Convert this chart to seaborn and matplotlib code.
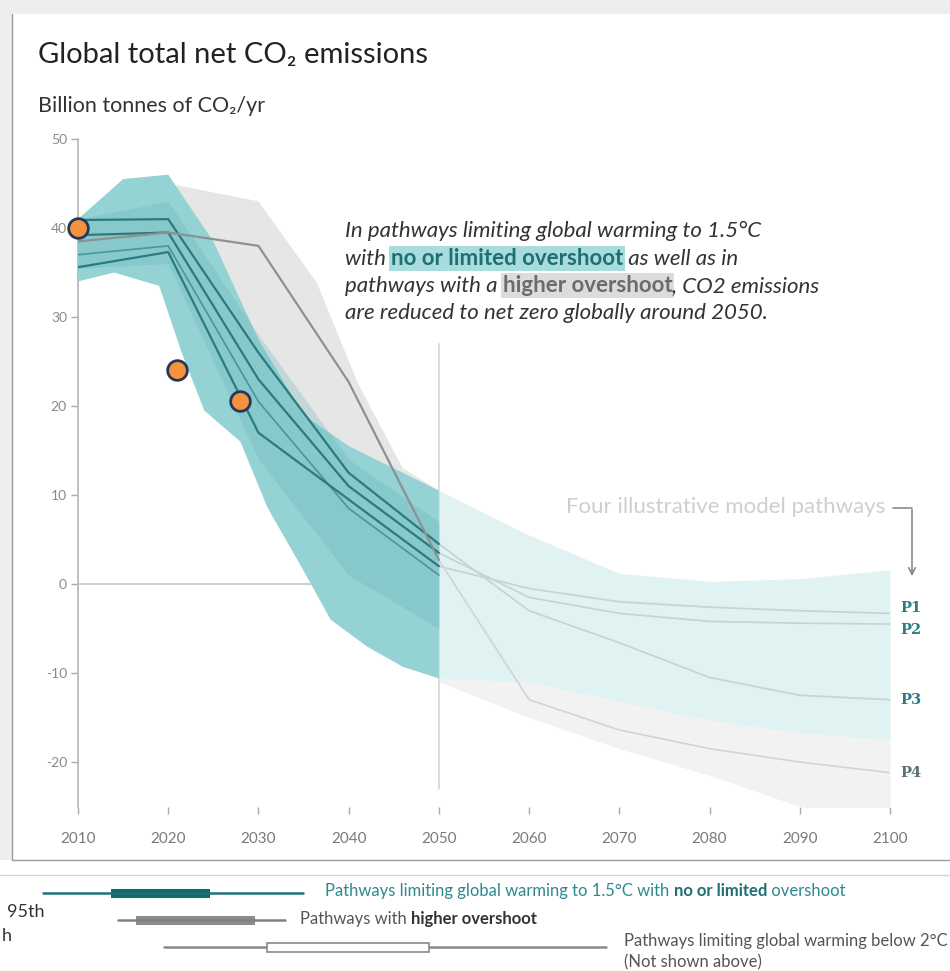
import numpy as np
import pandas as pd
import matplotlib.pyplot as plt
from matplotlib.patches import Rectangle
import seaborn as sns

# Illustrative pathways (billion tonnes CO2/yr)
years = [2010, 2020, 2030, 2040, 2050, 2060, 2070, 2080, 2090, 2100]
p1 = [35.6, 37.3, 17.0, 9.5, 2.0, -0.5, -2.0, -2.6, -3.0, -3.3]
p2 = [39.2, 39.5, 23.0, 11.0, 3.5, -1.5, -3.3, -4.2, -4.4, -4.5]
p3 = [40.9, 41.0, 26.0, 12.5, 4.5, -3.0, -6.6, -10.5, -12.5, -13.0]
p4 = [38.5, 39.5, 38.0, 22.7, 2.7, -13.0, -16.4, -18.5, -20.0, -21.2]
mid_15 = [37.0, 38.0, 20.5, 8.5, 1.0]

# 1.5C no / limited overshoot range, up to 2050
teal_up_x = [2010, 2015, 2020, 2025, 2030, 2035, 2040, 2045, 2050]
teal_up_y = [41.0, 45.5, 46.0, 38.5, 27.5, 19.0, 15.5, 13.0, 10.5]
teal_lo_x = [2010, 2014, 2019, 2021.5, 2024, 2028, 2031, 2035, 2038, 2042, 2046, 2050]
teal_lo_y = [34.0, 35.0, 33.5, 26.0, 19.5, 16.0, 8.6, 1.5, -4.0, -7.0, -9.3, -10.6]
inner_x = [2010, 2020, 2030, 2040, 2050]
inner_up = [41.0, 43.0, 28.0, 14.0, 7.0]
inner_lo = [35.5, 36.0, 14.0, 1.0, -5.0]

# higher overshoot range, up to 2050
gray_up_x = [2010, 2015, 2021, 2030, 2036.5, 2041, 2046, 2050]
gray_up_y = [41.0, 44.0, 44.8, 43.0, 33.8, 22.6, 13.0, 10.5]
gray_lo_x = [2010, 2020, 2030, 2040, 2050]
gray_lo_y = [36.0, 36.0, 20.0, 5.0, -8.0]

# ranges after 2050
late_x = [2050, 2060, 2070, 2080, 2090, 2100]
late_teal_up = [10.5, 5.5, 1.2, 0.3, 0.6, 1.6]
late_teal_lo = [-10.6, -11.0, -13.2, -15.3, -16.7, -17.5]
late_gray_up = [3.0, 0.0, -2.0, -3.0, -3.0, -3.0]
late_gray_lo = [-11.0, -15.0, -18.5, -21.5, -25.0, -27.0]

# observed points
obs_x = [2010, 2021, 2028]
obs_y = [40.0, 24.0, 20.6]

sns.set_theme(style="white")
plt.rcParams["font.family"] = ["Lato", "DejaVu Sans"]
plt.rcParams["axes.unicode_minus"] = False

fig = plt.figure(figsize=(9.5, 9.71), dpi=100)

# background layer in pixel coordinates
bg = fig.add_axes([0, 0, 1, 1], zorder=0)
bg.set_xlim(0, 950)
bg.set_ylim(971, 0)
bg.axis("off")
bg.add_patch(Rectangle((0, 0), 950, 14, fc="#eeeeee", ec="none"))
bg.add_patch(Rectangle((0, 0), 12, 860, fc="#eeeeee", ec="none"))
bg.plot([12, 12], [14, 860], color="#9a9a9a", lw=1)
bg.plot([12, 950], [860, 860], color="#9a9a9a", lw=1)
bg.plot([0, 950], [875, 875], color="#d5d5d5", lw=1)

bg.text(38, 55, "Global total net CO₂ emissions", fontsize=21, va="center", color="#222222")
bg.text(38, 106, "Billion tonnes of CO₂/yr", fontsize=15.5, va="center", color="#333333")

ax = fig.add_axes([0.0821, 0.1694, 0.8547, 0.6874], zorder=1)
ax.patch.set_alpha(0)

# late ranges
ax.fill_between(late_x, late_gray_lo, late_gray_up, color="#f2f2f2", lw=0, zorder=1)
ax.fill_between(late_x, late_teal_lo, late_teal_up, color="#e1f2f3", lw=0, zorder=2)

# reference lines
ax.plot([2010, 2050], [0, 0], color="#cfcfcf", lw=1.4, zorder=2)
ax.plot([2050, 2050], [27, -23], color="#dddddd", lw=1.4, zorder=2)

# higher overshoot range
ax.fill(gray_up_x + gray_lo_x[::-1], gray_up_y + gray_lo_y[::-1],
        color="#e6e6e6", lw=0, zorder=3)
# 1.5C range
ax.fill(teal_up_x + teal_lo_x[::-1], teal_up_y + teal_lo_y[::-1],
        color="#95d2d4", lw=0, zorder=4)
ax.fill_between(inner_x, inner_lo, inner_up, color="#5eaeb3", alpha=0.25, lw=0, zorder=5)

# pathway lines
for vals in [p1, p2, p3]:
    sns.lineplot(x=years[4:], y=vals[4:], color="#c6d2d4", lw=1.2, ax=ax, zorder=6)
sns.lineplot(x=years[4:], y=p4[4:], color="#d3d3d3", lw=1.2, ax=ax, zorder=6)
sns.lineplot(x=years[:5], y=mid_15, color="#4a9599", lw=1.2, ax=ax, zorder=7)
for vals in [p1, p2, p3]:
    sns.lineplot(x=years[:5], y=vals[:5], color="#2c7a7f", lw=1.6, ax=ax, zorder=7)
sns.lineplot(x=years[:5], y=p4[:5], color="#8c9193", lw=1.6, ax=ax, zorder=7)

sns.scatterplot(x=obs_x, y=obs_y, s=200, color="#f5923e", edgecolor="#27375a",
                linewidth=2, ax=ax, zorder=10, clip_on=False)

ax.set_xlim(2010, 2100)
ax.set_ylim(-25, 50)
ax.set_xticks(range(2010, 2101, 10))
ax.set_yticks(range(-20, 51, 10))
for s in ["top", "right", "bottom"]:
    ax.spines[s].set_visible(False)
ax.spines["left"].set_color("#b8b8b8")
ax.tick_params(axis="y", left=True, length=5, width=1, color="#aaaaaa",
               labelcolor="#8a8a8a", labelsize=10, pad=3)
ax.tick_params(axis="x", bottom=True, length=5, width=1, color="#aaaaaa",
               labelcolor="#7a7a7a", labelsize=11, pad=13)
ax.set_xlabel("")
ax.set_ylabel("")

# pathway labels
lab_col = "#2b7d85"
for name, val, dy, col in [("P1", p1[-1], 0.6, lab_col), ("P2", p2[-1], -0.7, lab_col),
                           ("P3", p3[-1], 0.0, lab_col), ("P4", p4[-1], 0.0, "#5a6f76")]:
    ax.text(2101.2, val + dy, name, fontsize=10.5, fontweight="bold", color=col,
            family="DejaVu Serif", va="center", clip_on=False)

bg.text(885, 507, "Four illustrative model pathways", fontsize=16, color="#cfcfcf",
        ha="right", va="center")
bg.plot([893, 912], [508, 508], color="#8a8a8a", lw=1.2)
bg.annotate("", xy=(912, 579), xytext=(912, 507),
            arrowprops=dict(arrowstyle="->", color="#8a8a8a", lw=1.2))


def rich_line(x, y, parts, size):
    t = None
    for s, style in parts:
        if t is None:
            t = bg.text(x, y, s, va="baseline", fontsize=size, **style)
        else:
            t = bg.annotate(s, xy=(1, 0), xycoords=t, va="bottom", fontsize=size, **style)
    return t


it = dict(style="italic", color="#333333")
hl_teal = dict(fontweight="bold", color="#1d6f73",
               bbox=dict(boxstyle="square,pad=0.08", fc="#a9dcdd", ec="none"))
hl_gray = dict(fontweight="bold", color="#6b6b6b",
               bbox=dict(boxstyle="square,pad=0.08", fc="#dcdcdc", ec="none"))

rich_line(345, 237, [("In pathways limiting global warming to 1.5°C", it)], 16)
rich_line(345, 265, [("with ", it), ("no or limited overshoot", hl_teal), (" as well as in", it)], 16)
rich_line(345, 292, [("pathways with a ", it), ("higher overshoot", hl_gray), (", CO2 emissions", it)], 16)
rich_line(345, 319, [("are reduced to net zero globally around 2050.", it)], 16)

# legend glyphs
bg.plot([43, 303], [893, 893], color="#1e7378", lw=1.8)
bg.add_patch(Rectangle((111, 889), 99, 9, fc="#0f6b6e", ec="none"))
bg.plot([118, 285], [920, 920], color="#808080", lw=1.8)
bg.add_patch(Rectangle((136, 916), 119, 9, fc="#8c8c8c", ec="none"))
bg.plot([164, 606], [947, 947], color="#8a8a8a", lw=1.8)
bg.add_patch(Rectangle((267, 943), 162, 9, fc="white", ec="#8a8a8a", lw=1.2, zorder=3))

tc = dict(color="#2b8a8f")
rich_line(325, 896, [("Pathways limiting global warming to 1.5°C with ", tc),
                     ("no or limited", dict(color="#1d6f73", fontweight="bold")),
                     (" overshoot", tc)], 12)
rich_line(300, 924, [("Pathways with ", dict(color="#555555")),
                     ("higher overshoot", dict(color="#333333", fontweight="bold"))], 12)
bg.text(624, 946, "Pathways limiting global warming below 2°C", fontsize=12, color="#555555")
bg.text(624, 967, "(Not shown above)", fontsize=12, color="#555555")

bg.text(45, 917, "95th", fontsize=13, color="#333333", ha="right")
bg.text(12, 941, "h", fontsize=13, color="#333333", ha="right")

fig.savefig("out.png", dpi=100)
